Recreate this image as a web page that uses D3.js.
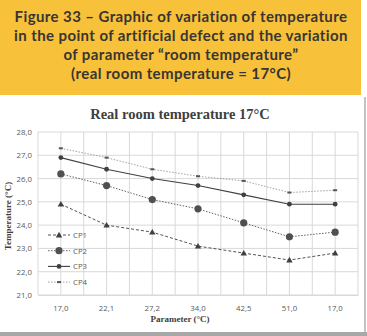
<!DOCTYPE html>
<html><head><meta charset="utf-8">
<script src="https://cdn.jsdelivr.net/npm/d3@7"></script>
<style>
html,body{margin:0;padding:0;background:#fff;}
svg{display:block;}
.banner{fill:#383532;}
</style></head>
<body>
<svg id="c" width="367" height="336"></svg>
<script>
const categories = ["17,0","22,1","27,2","34,0","42,5","51,0","17,0 "];
const cp1 = [24.9, 24.0, 23.7, 23.1, 22.8, 22.5, 22.8];
const cp2 = [26.2, 25.7, 25.1, 24.7, 24.1, 23.5, 23.7];
const cp3 = [26.9, 26.4, 26.0, 25.7, 25.3, 24.9, 24.9];
const cp4 = [27.3, 26.9, 26.4, 26.1, 25.9, 25.4, 25.5];
const yTicks = [21,22,23,24,25,26,27,28];
const seriesNames = ["CP1","CP2","CP3","CP4"];

(function(){
const svg = d3.select("#c");

// banner
svg.append("rect").attr("x",0).attr("y",0).attr("width",361).attr("height",95).attr("fill","#F8C13A");
const bannerLines = ["Figure 33 – Graphic of variation of temperature","in the point of artificial defect and the variation","of parameter “room temperature”","(real room temperature = 17°C)"];
bannerLines.forEach((t,i)=>{
  svg.append("text").attr("class","banner")
    .attr("x",181).attr("y",22+i*19)
    .attr("text-anchor","middle")
    .attr("font-family","Lato, 'Open Sans', sans-serif").attr("font-weight","bold")
    .attr("font-size",15).attr("letter-spacing",0.4)
    .text(t);
});

// chart frame
svg.append("line").attr("x1",365).attr("x2",365).attr("y1",97).attr("y2",334).attr("stroke","#9a9a9a").attr("stroke-width",1.2);
svg.append("rect").attr("x",0).attr("y",332).attr("width",367).attr("height",4).attr("fill","#a8a8a8");

const pL=38, pR=358, pT=132, pB=295;
const x = d3.scaleBand().domain(categories).range([pL,pR]);
const y = d3.scaleLinear().domain([21,28]).range([pB,pT]);

// grid
const g = svg.append("g");
g.selectAll(".hg").data(yTicks).join("line")
  .attr("x1",pL).attr("x2",pR).attr("y1",d=>y(d)).attr("y2",d=>y(d))
  .attr("stroke","#d9d9d9").attr("stroke-width",1);
const vpos=[];
categories.forEach(c=>{vpos.push(x(c)); vpos.push(x(c)+x.bandwidth()/2);});
vpos.push(pR);
g.selectAll(".vg").data(vpos).join("line")
  .attr("x1",d=>d).attr("x2",d=>d).attr("y1",pT).attr("y2",pB)
  .attr("stroke","#d9d9d9").attr("stroke-width",1);

// axes
const yAxis = d3.axisLeft(y).tickValues(yTicks).tickSize(0).tickPadding(6)
  .tickFormat(d=>d3.format(".1f")(d).replace(".",","));
const ya = svg.append("g").attr("transform",`translate(${pL},0)`).call(yAxis);
ya.select(".domain").remove();
ya.selectAll("text").attr("font-family","'Open Sans', sans-serif").attr("font-size",7.8).attr("fill","#595959");

const xAxis = d3.axisBottom(x).tickSize(0).tickPadding(10);
const xa = svg.append("g").attr("transform",`translate(0,${pB})`).call(xAxis);
xa.select(".domain").attr("stroke","#d9d9d9");
xa.selectAll("text").attr("font-family","'Open Sans', sans-serif").attr("font-size",7.8).attr("fill","#595959");

// titles
svg.append("text").attr("x",180).attr("y",119).attr("text-anchor","middle")
  .attr("font-family","'Liberation Serif', serif").attr("font-weight","bold")
  .attr("font-size",14.5).attr("fill","#404040").text("Real room temperature 17°C");
svg.append("text").attr("x",180).attr("y",322).attr("text-anchor","middle")
  .attr("font-family","'Liberation Serif', serif").attr("font-weight","bold")
  .attr("font-size",9).attr("fill","#404040").text("Parameter (°C)");
svg.append("text").attr("transform",`translate(11,216) rotate(-90)`).attr("text-anchor","middle")
  .attr("font-family","'Liberation Serif', serif").attr("font-weight","bold")
  .attr("font-size",9).attr("fill","#404040").text("Temperature (°C)");

// series
const series = [
  {name:seriesNames[0], vals:cp1, dash:"3,2", width:0.9, color:"#404040", marker:"tri", size:3.2},
  {name:seriesNames[1], vals:cp2, dash:"1.5,1.5", width:0.9, color:"#505050", marker:"circle", size:3.6},
  {name:seriesNames[2], vals:cp3, dash:null, width:1.1, color:"#404040", marker:"circle", size:2.4},
  {name:seriesNames[3], vals:cp4, dash:"1.5,1.5", width:0.8, color:"#8a8a8a", marker:"dash", size:2}
];
const cx = c => x(c)+x.bandwidth()/2;
const line = d3.line().x(d=>cx(d.c)).y(d=>y(d.v));

function drawMarker(sel, s, px, py){
  if(s.marker==="tri"){
    const r=s.size;
    sel.append("path").attr("d",`M${px},${py-r}L${px+r},${py+r*0.75}L${px-r},${py+r*0.75}Z`).attr("fill",s.color);
  } else if(s.marker==="circle"){
    sel.append("circle").attr("cx",px).attr("cy",py).attr("r",s.size).attr("fill",s.color);
  } else {
    sel.append("rect").attr("x",px-2).attr("y",py-1).attr("width",4).attr("height",2).attr("fill","#555");
  }
}

series.forEach(s=>{
  const data = s.vals.map((v,i)=>({c:categories[i], v}));
  const p = svg.append("path").datum(data).attr("d",line).attr("fill","none")
    .attr("stroke",s.color).attr("stroke-width",s.width);
  if(s.dash) p.attr("stroke-dasharray",s.dash);
  const mg = svg.append("g");
  data.forEach(d=>drawMarker(mg,s,cx(d.c),y(d.v)));
});

// legend
const lg = svg.append("g");
series.forEach((s,i)=>{
  const ly = 235+i*15.7;
  const l = lg.append("line").attr("x1",48).attr("x2",70).attr("y1",ly).attr("y2",ly)
    .attr("stroke",s.color).attr("stroke-width",s.width);
  if(s.dash) l.attr("stroke-dasharray",s.dash);
  drawMarker(lg,s,59,ly);
  lg.append("text").attr("x",73).attr("y",ly+2.8).attr("font-family","'Open Sans', sans-serif")
    .attr("font-size",7.8).attr("fill","#595959").text(s.name);
});
})();
</script>
</body></html>
